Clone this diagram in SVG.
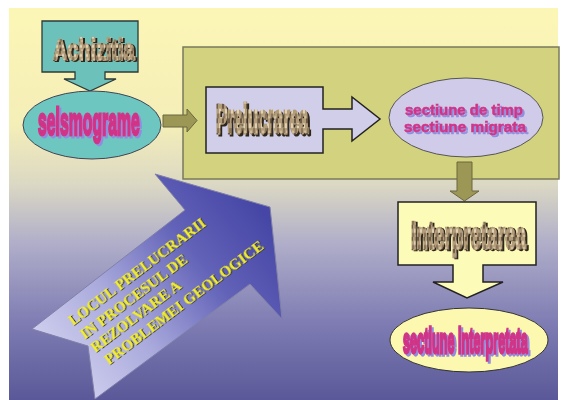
<svg xmlns="http://www.w3.org/2000/svg" width="565" height="400" viewBox="0 0 565 400">
<defs>
<linearGradient id="bg" x1="0" y1="8" x2="0" y2="400" gradientUnits="userSpaceOnUse">
<stop offset="0" stop-color="#fcf6b6"/>
<stop offset="0.3" stop-color="#f4eeb8"/>
<stop offset="0.45" stop-color="#dbd8c4"/>
<stop offset="0.6" stop-color="#b0aec9"/>
<stop offset="0.8" stop-color="#7f7db3"/>
<stop offset="1" stop-color="#5a5898"/>
</linearGradient>
<linearGradient id="blue" x1="60" y1="380" x2="265" y2="215" gradientUnits="userSpaceOnUse">
<stop offset="0" stop-color="#d2d2f0"/>
<stop offset="0.35" stop-color="#a9a9dc"/>
<stop offset="0.7" stop-color="#6262b8"/>
<stop offset="1" stop-color="#4646a6"/>
</linearGradient>
<pattern id="stone" patternUnits="userSpaceOnUse" width="6" height="6">
<rect width="6" height="6" fill="#b39c7a"/>
<rect x="0" y="0" width="2" height="2" fill="#6a5a46"/>
<rect x="3" y="2" width="2" height="2" fill="#e0d2b2"/>
<rect x="1" y="4" width="2" height="2" fill="#8a765c"/>
<rect x="4" y="5" width="2" height="1" fill="#d2bf9a"/>
</pattern>
<filter id="bsh" x="-10%" y="-20%" width="130%" height="150%">
<feOffset in="SourceAlpha" dx="2" dy="0.9" result="o"/>
<feFlood flood-color="#8e8ee0"/>
<feComposite in2="o" operator="in" result="s"/>
<feMerge><feMergeNode in="s"/><feMergeNode in="SourceGraphic"/></feMerge>
</filter>
<filter id="bsh2" x="-10%" y="-20%" width="130%" height="150%">
<feOffset in="SourceAlpha" dx="1.5" dy="1.5" result="o"/>
<feFlood flood-color="#8e8ee0"/>
<feComposite in2="o" operator="in" result="s"/>
<feMerge><feMergeNode in="s"/><feMergeNode in="SourceGraphic"/></feMerge>
</filter>
<filter id="dsh" x="-10%" y="-20%" width="130%" height="150%">
<feOffset in="SourceAlpha" dx="1.5" dy="0.7" result="o"/>
<feFlood flood-color="#2e261a"/>
<feComposite in2="o" operator="in" result="s"/>
<feMerge><feMergeNode in="s"/><feMergeNode in="SourceGraphic"/></feMerge>
</filter>
<filter id="ysh" x="-10%" y="-30%" width="130%" height="170%">
<feOffset in="SourceAlpha" dx="0.8" dy="0.8" result="o"/>
<feFlood flood-color="#3c3a3a"/>
<feComposite in2="o" operator="in" result="s"/>
<feMerge><feMergeNode in="s"/><feMergeNode in="SourceGraphic"/></feMerge>
</filter>
<style>
.stone{font-family:"Liberation Sans",Arial,sans-serif;font-weight:bold;fill:url(#stone);stroke:url(#stone);stroke-width:1.3;filter:url(#dsh);}
.mag{font-family:"Liberation Sans",Arial,sans-serif;font-weight:bold;fill:#d03488;stroke:#d03488;stroke-width:1.2;filter:url(#bsh);}
.mag2{font-family:"Liberation Sans",Arial,sans-serif;font-weight:bold;fill:#d03488;stroke:#d03488;stroke-width:0.6;font-size:15px;filter:url(#bsh2);}
.olive{fill:#9c9754;stroke:#6a6640;stroke-width:1;}
.yel{font-family:"Liberation Serif","Times New Roman",serif;font-weight:bold;font-size:15.5px;fill:#f3ef2e;filter:url(#ysh);}
</style>
</defs>
<rect width="565" height="400" fill="#ffffff"/>
<rect x="9" y="8" width="549" height="392" fill="url(#bg)"/>

<g id="container">
<rect x="183" y="47" width="376" height="132" fill="#d3d27e" stroke="#7a7a5e" stroke-width="1.5"/>
</g>

<g id="big-arrow">
<polygon points="32,329 185,210 155,174 270,207 282,319 250,284 95,399 88,346" fill="url(#blue)" stroke="#8080a8" stroke-width="1"/>
<g transform="translate(73,326) rotate(-37)">
<text class="yel" x="0" y="0">LOCUL PRELUCRARII</text>
<text class="yel" x="1" y="17.5">IN PROCESUL DE</text>
<text class="yel" x="1.5" y="35">REZOLVARE A</text>
<text class="yel" x="5" y="53">PROBLEMEI GEOLOGICE</text>
</g>
</g>

<g id="connectors">
<path class="olive" d="M163,115 H187 V109 L197,120.5 L187,132 V127 H163 Z"/>
<path class="olive" d="M457,162 V191 H450 L464.5,201 L479,191 H472 V162 Z"/>
</g>

<g id="achizitia">
<path d="M42,21 H138 V72 H105 V79 H116 L90,91 L64,79 H75 V72 H42 Z" fill="#6cc2ba" stroke="#2e3a38" stroke-width="1.3"/>
<text class="stone" transform="translate(53,60) scale(1,1.52)" font-size="19.8">Achizitia</text>
</g>

<g id="seismograme">
<ellipse cx="92" cy="125" rx="69" ry="34" fill="#6ec6c0" stroke="#445" stroke-width="1"/>
<text class="mag" transform="translate(38,135) scale(1,2.45)" font-size="15.8">seismograme</text>
</g>

<g id="prelucrarea">
<path d="M206,87 H323 V109 H352 V97 L380,119 L352,141 V129 H323 V153 H206 Z" fill="#d0cee8" stroke="#222" stroke-width="1.5"/>
<text class="stone" transform="translate(216,133) scale(1,2.43)" font-size="16.8">Prelucrarea</text>
</g>

<g id="sectiune-timp">
<ellipse cx="466" cy="117.5" rx="77" ry="39.5" fill="#cfcbe8" stroke="#555" stroke-width="1"/>
<text class="mag2" x="405" y="115" textLength="118" lengthAdjust="spacingAndGlyphs">sectiune de timp</text>
<text class="mag2" x="404" y="132" textLength="122" lengthAdjust="spacingAndGlyphs">sectiune migrata</text>
</g>

<g id="interpretarea">
<path d="M398,202 H536 V265 H483 V282 H503 L467,298 L433,282 H453 V265 H398 Z" fill="#fdfbb8" stroke="#222" stroke-width="1.5"/>
<text class="stone" transform="translate(411,249) scale(1,2.02)" font-size="18.8">Interpretarea</text>
</g>

<g id="sectiune-interpretata">
<ellipse cx="469" cy="340" rx="79" ry="32" fill="#fcf8b0" stroke="#333" stroke-width="1"/>
<text class="mag" transform="translate(403,353) scale(1,2.77)" font-size="12.7">sectiune interpretata</text>
</g>
</svg>
